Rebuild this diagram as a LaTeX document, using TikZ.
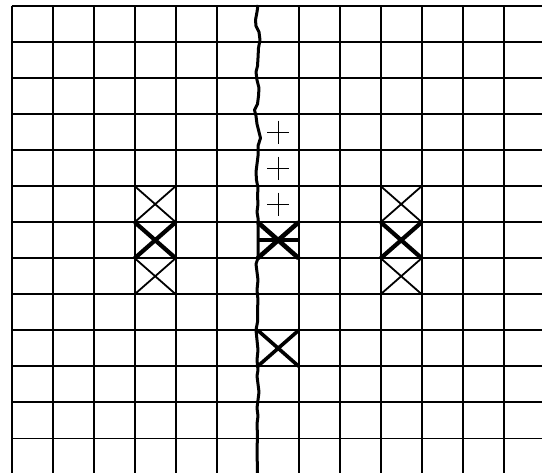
\documentclass[tikz,border=0pt]{standalone}
\begin{document}
\begin{tikzpicture}[x=1pt,y=-1pt,
  gridline/.style={line width=1.7pt,black},
  thinx/.style={line width=1.8pt,black},
  thickx/.style={line width=4.2pt,black},
  boldx/.style={line width=4.6pt,black},
  midx/.style={line width=3.6pt,black},
  plusmark/.style={line width=1.1pt,black},
  crack/.style={line width=3pt,black,line join=round}]
\useasboundingbox[fill=white] (0,0) rectangle (542,473);
\def\cw{41.0}\def\ch{36.03}\def\xo{11.7}\def\yo{6}
% vertical grid lines
\foreach \i in {0,...,5,7,8,...,12}
  \draw[gridline] ({\xo+\cw*\i},\yo) -- ({\xo+\cw*\i},473);
% horizontal grid lines
\foreach \j in {0,...,12}
  \draw[gridline] (\xo,{\yo+\ch*\j}) -- (542,{\yo+\ch*\j});
% cell helper: corners of cell (i,j)
\newcommand{\mycellx}[3]{%
  \draw[#3] ({\xo+\cw*#1},{\yo+\ch*#2}) -- ({\xo+\cw*(#1+1)},{\yo+\ch*(#2+1)})
            ({\xo+\cw*(#1+1)},{\yo+\ch*#2}) -- ({\xo+\cw*#1},{\yo+\ch*(#2+1)});}
% left column
\mycellx{3}{5}{thinx}
\mycellx{3}{6}{thickx}
\mycellx{3}{7}{thinx}
% right column
\mycellx{9}{5}{thinx}
\mycellx{9}{6}{thickx}
\mycellx{9}{7}{thinx}
% centre column
\mycellx{6}{6}{boldx}
\draw[boldx] ({\xo+\cw*6},{\yo+\ch*6.5}) -- ({\xo+\cw*7},{\yo+\ch*6.5});
\mycellx{6}{9}{midx}
% plus signs
\foreach \j in {3,4,5}
  \draw[plusmark] ({\xo+\cw*6.5-11},{\yo+\ch*(\j+0.5)}) -- ({\xo+\cw*6.5+11},{\yo+\ch*(\j+0.5)})
                  ({\xo+\cw*6.5},{\yo+\ch*(\j+0.5)-11.5}) -- ({\xo+\cw*6.5},{\yo+\ch*(\j+0.5)+11.5});
% jagged vertical line
\draw[crack] (258,5) -- (257,12) -- (255.5,20) -- (256,26) -- (259,32) -- (260,40) -- (258.5,48)
  -- (258,58) -- (257.5,66) -- (256,72) -- (257,80) -- (259,88) -- (258.5,96) -- (257.5,104)
  -- (254.5,110) -- (256,116) -- (257,124) -- (259,132) -- (260.5,138) -- (258,146) -- (258,156)
  -- (257,164) -- (256,172) -- (256.5,180) -- (258,188) -- (257.5,196) -- (258,204) -- (257,212)
  -- (258,218) -- (258,224) -- (258,240) -- (258,258) -- (256,264) -- (257,272) -- (258,280)
  -- (257,290) -- (258,300) -- (257.5,310) -- (257.5,322) -- (256,330) -- (257,340) -- (258,350)
  -- (257,360) -- (258,370) -- (257,376) -- (258,384) -- (259,392) -- (258,400) -- (257,408)
  -- (258,416) -- (257,424) -- (257.5,436) -- (257,450) -- (257.5,473);
\end{tikzpicture}
\end{document}
